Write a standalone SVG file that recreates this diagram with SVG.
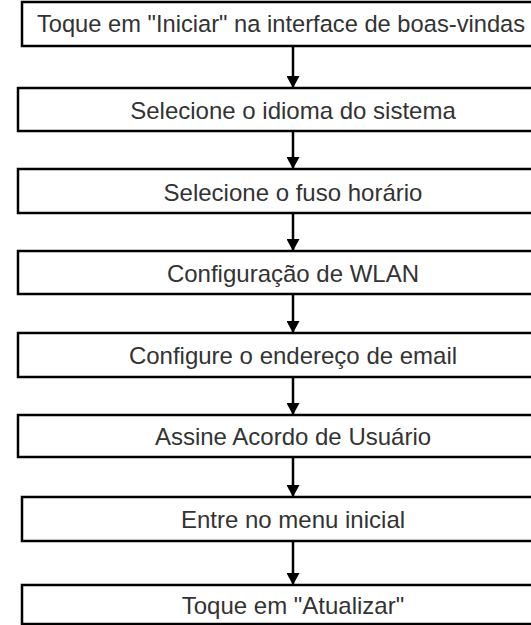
<svg xmlns="http://www.w3.org/2000/svg" width="531" height="625" viewBox="0 0 531 625">
<style>
.box{fill:#fff;stroke:#000;stroke-width:2.5}
.t{font-family:"Liberation Sans",Arial,sans-serif;font-size:24px;fill:#333;text-anchor:middle;dominant-baseline:central}
.c{stroke:#000;stroke-width:2.5;fill:none}
</style>
<defs>
<marker id="ah" markerWidth="12" markerHeight="13" refX="11" refY="6.5" orient="auto" markerUnits="userSpaceOnUse"><path d="M0,0 L12,6.5 L0,13 Z" fill="#000"/></marker>
</defs>
<rect width="531" height="625" fill="#fff"/>
<g id="connectors">
<line class="c" x1="293" y1="46" x2="293" y2="87" marker-end="url(#ah)"/>
<line class="c" x1="293" y1="131" x2="293" y2="168" marker-end="url(#ah)"/>
<line class="c" x1="293" y1="213" x2="293" y2="250" marker-end="url(#ah)"/>
<line class="c" x1="293" y1="294" x2="293" y2="332" marker-end="url(#ah)"/>
<line class="c" x1="293" y1="377" x2="293" y2="414" marker-end="url(#ah)"/>
<line class="c" x1="293" y1="457" x2="293" y2="496" marker-end="url(#ah)"/>
<line class="c" x1="293" y1="541" x2="293" y2="584" marker-end="url(#ah)"/>
</g>
<g id="n1"><rect class="box" x="22" y="2" width="560" height="44"/><text class="t" x="281" y="24" style="font-size:23.7px">Toque em "Iniciar" na interface de boas-vindas</text></g>
<g id="n2"><rect class="box" x="18" y="88" width="560" height="43"/><text class="t" x="293" y="110">Selecione o idioma do sistema</text></g>
<g id="n3"><rect class="box" x="18" y="169" width="560" height="44"/><text class="t" x="293" y="192">Selecione o fuso horário</text></g>
<g id="n4"><rect class="box" x="18" y="251" width="560" height="43"/><text class="t" x="293" y="273">Configuração de WLAN</text></g>
<g id="n5"><rect class="box" x="18" y="333" width="560" height="44"/><text class="t" x="293" y="355">Configure o endereço de email</text></g>
<g id="n6"><rect class="box" x="18" y="415" width="560" height="42"/><text class="t" x="293" y="436">Assine Acordo de Usuário</text></g>
<g id="n7"><rect class="box" x="22" y="497" width="560" height="44"/><text class="t" x="293" y="519">Entre no menu inicial</text></g>
<g id="n8"><rect class="box" x="22" y="585" width="560" height="39"/><text class="t" x="293" y="605">Toque em "Atualizar"</text></g>
</svg>
